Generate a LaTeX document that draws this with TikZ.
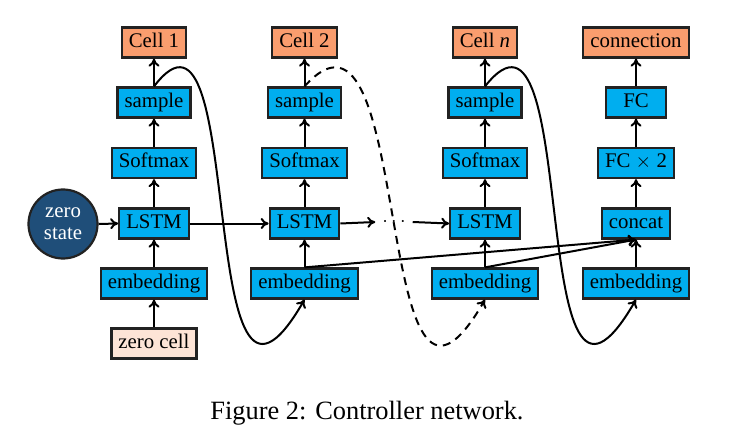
\documentclass[tikz,border=0pt]{standalone}
\usepackage{fontspec}
\setmainfont{Liberation Serif}
\usetikzlibrary{arrows.meta}
\definecolor{boxblue}{HTML}{00AEEF}
\definecolor{cellorange}{HTML}{FA9D6E}
\definecolor{zerocellcol}{HTML}{FDE4D6}
\definecolor{statecol}{HTML}{1F4E79}
\definecolor{edgecol}{HTML}{222222}
\begin{document}
\begin{tikzpicture}[x=0.5pt,y=-0.5pt,
  every node/.style={font=\fontsize{10.4}{12}\selectfont},
  blk/.style={draw=edgecol, line width=1.1pt, inner xsep=3.5pt, inner ysep=3pt,
    minimum width=30pt, text height=7pt, text depth=2pt},
  bluebox/.style={blk, fill=boxblue},
  cellbox/.style={blk, fill=cellorange},
  zerobox/.style={blk, fill=zerocellcol},
  conn/.style={line width=1pt, draw=black, -{To[length=4pt,width=5.5pt]}},
  dashconn/.style={conn, dash pattern=on 4pt off 3pt},
]
\useasboundingbox (0,0) rectangle (734,444);

% column 1
\node[cellbox] (c1) at (154,42.5) {Cell 1};
\node[bluebox] (sa1) at (154,102.5) {sample};
\node[bluebox] (s1) at (154,163) {Softmax};
\node[bluebox] (l1) at (154,223.5) {LSTM};
\node[bluebox] (e1) at (154,283.5) {embedding};
\node[zerobox] (zc) at (154,343.5) {zero cell};
\node[circle, draw=edgecol, fill=statecol, text=white, line width=1.1pt,
  minimum size=34.5pt, inner sep=0pt, align=center,
  font=\fontsize{10.4}{11}\selectfont] (zs) at (63,224) {zero\\state};

% column 2
\node[cellbox] (c2) at (304.5,42.5) {Cell 2};
\node[bluebox] (sa2) at (304.5,102.5) {sample};
\node[bluebox] (s2) at (304.5,163) {Softmax};
\node[bluebox] (l2) at (304.5,223.5) {LSTM};
\node[bluebox] (e2) at (304.5,283.5) {embedding};

% dots
\node (dots) at (394,222) {$\cdots$};

% column n
\node[cellbox] (cn) at (485,42.5) {Cell \textit{n}};
\node[bluebox] (san) at (485,102.5) {sample};
\node[bluebox] (sn) at (485,163) {Softmax};
\node[bluebox] (ln) at (485,223.5) {LSTM};
\node[bluebox] (en) at (485,283.5) {embedding};

% column 4
\node[cellbox] (cx) at (636,42.5) {connection};
\node[bluebox] (fa) at (636,102.5) {FC};
\node[bluebox] (fb) at (636,163) {FC $\times$ 2};
\node[bluebox] (cc) at (636,223.5) {concat};
\node[bluebox] (e4) at (636,283.5) {embedding};

% caption
\node[font=\fontsize{13.2}{15}\selectfont] (cap) at (367,413) {Figure 2: Controller network.};

% vertical connectors
\foreach \a/\b in {zc/e1, e1/l1, l1/s1, s1/sa1, sa1/c1,
                   e2/l2, l2/s2, s2/sa2, sa2/c2,
                   en/ln, ln/sn, sn/san, san/cn,
                   e4/cc, cc/fb, fb/fa, fa/cx}
  \draw[conn] (\a.north) -- (\b.south);

% horizontal connectors
\draw[conn] (zs.east) -- (l1.west);
\draw[conn] (l1.east) -- (l2.west);
\draw[conn] (l2.east) -- (dots.west);
\draw[conn] (dots.east) -- (ln.west);

% into concat
\draw[conn] (e2.north) -- (cc.south);
\draw[conn] (en.north) -- (cc.south);

% curves
\draw[conn] (sa1.north) .. controls +(95,-125) and +(-112,195) .. (e2.south);
\draw[dashconn] (sa2.north) .. controls +(112,-125) and +(-115,200) .. (en.south);
\draw[conn] (san.north) .. controls +(98,-125) and +(-112,195) .. (e4.south);
\end{tikzpicture}
\end{document}
